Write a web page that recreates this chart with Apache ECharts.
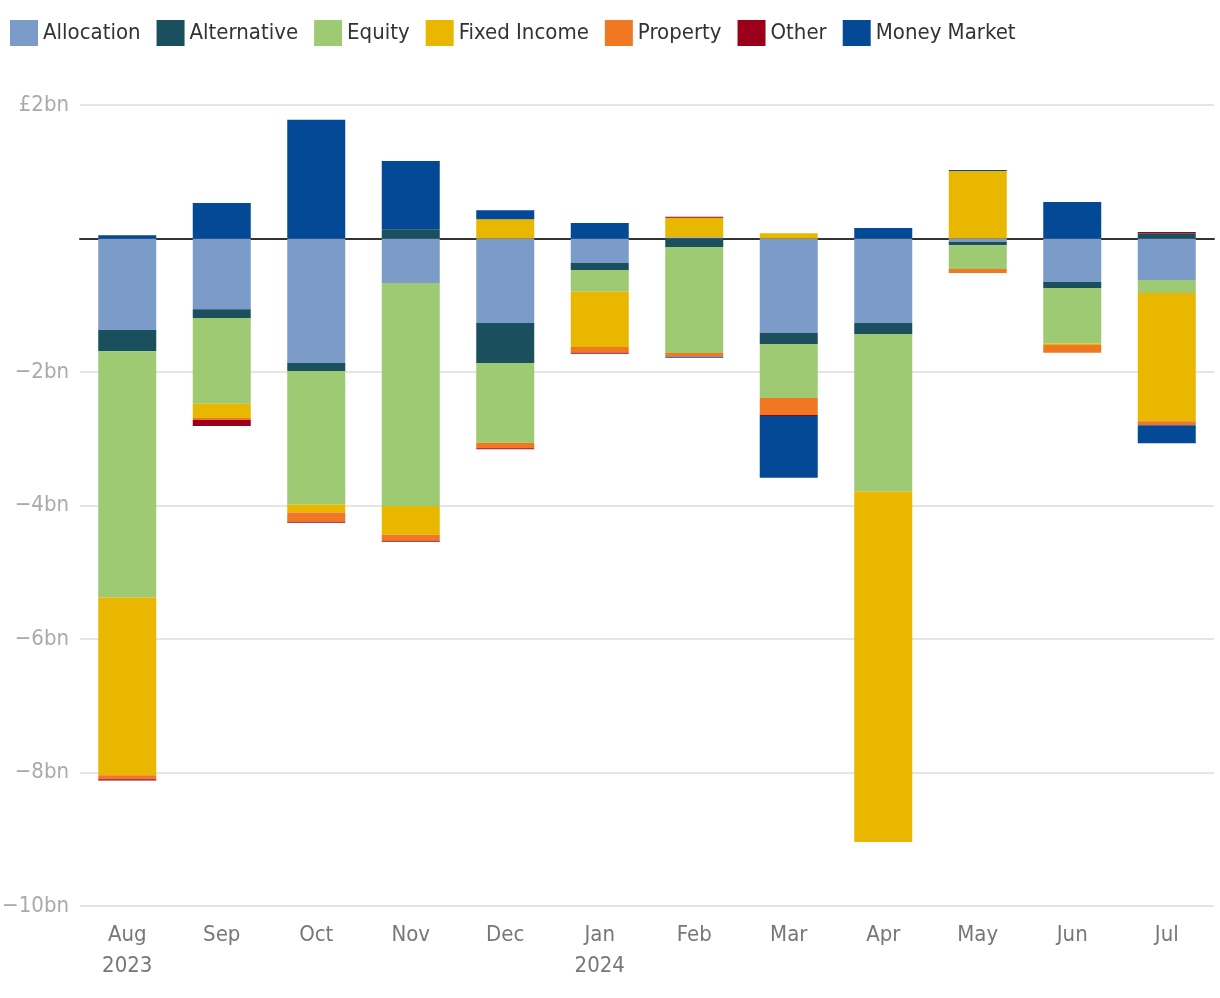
<!DOCTYPE html>
<html>
<head>
<meta charset="utf-8">
<script src="https://cdn.jsdelivr.net/npm/echarts@6/dist/echarts.min.js"></script>
<style>
html,body{margin:0;padding:0;background:#fff;}
#chart{width:1220px;height:998px;}
</style>
</head>
<body>
<div id="chart"></div>
<script>
const months = ['Aug\n2023','Sep','Oct','Nov','Dec','Jan\n2024','Feb','Mar','Apr','May','Jun','Jul'];
const yTicks = {min: -10, max: 2, interval: 2};

const allocation  = [-1.37, -1.06, -1.865, -0.667, -1.266, -0.367, 0.02, -1.416, -1.266, -0.05, -0.652, -0.622];
const alternative = [-0.32, -0.13, -0.12, 0.14, -0.60, -0.105, -0.127, -0.165, -0.165, -0.05, -0.09, 0.077];
const equity      = [-3.69, -1.285, -2.0, -3.34, -1.195, -0.325, -1.59, -0.81, -2.36, -0.357, -0.83, -0.195];
const fixedIncome = [-2.66, -0.215, -0.12, -0.43, 0.29, -0.83, 0.29, 0.08, -5.25, 1.01, -0.025, -1.92];
const property    = [-0.06, -0.03, -0.14, -0.09, -0.08, -0.085, -0.055, -0.255, 0, -0.06, -0.115, -0.06];
const other       = [-0.02, -0.09, -0.015, -0.015, -0.015, -0.015, 0.015, -0.015, 0, 0, 0, 0.02];
const moneyMarket = [0.05, 0.53, 1.78, 1.02, 0.135, 0.232, -0.015, -0.925, 0.157, 0.015, 0.547, -0.27];

const seriesDefs = [
  ['Allocation', allocation, '#7b9bc9'],
  ['Alternative', alternative, '#1a4f5e'],
  ['Equity', equity, '#9dca73'],
  ['Fixed Income', fixedIncome, '#e9b600'],
  ['Property', property, '#f07823'],
  ['Other', other, '#9b0019'],
  ['Money Market', moneyMarket, '#044996']
];

const FONT = '"Liberation Sans Narrow", "DejaVu Sans Condensed", "Roboto", sans-serif';

const chart = echarts.init(document.getElementById('chart'));
chart.setOption({
  animation: false,
  textStyle: {fontFamily: FONT},
  legend: {
    left: 10, top: 20, padding: 0,
    itemWidth: 28, itemHeight: 26, itemGap: 16,
    icon: 'rect',
    textStyle: {fontSize: 22, color: '#333', fontFamily: FONT},
    data: seriesDefs.map(s => s[0])
  },
  grid: {left: 80, right: 6, top: 105, bottom: 92, outerBoundsMode: 'none', containLabel: false},
  xAxis: {
    type: 'category',
    data: months,
    axisLine: {onZero: true, lineStyle: {color: '#333', width: 2}},
    axisTick: {show: false},
    axisLabel: {
      fontSize: 22, color: '#777', fontFamily: FONT,
      lineHeight: 31, margin: 14, interval: 0
    },
    position: 'bottom'
  },
  yAxis: {
    type: 'value',
    min: yTicks.min, max: yTicks.max, interval: yTicks.interval,
    axisLine: {show: false},
    axisTick: {show: false},
    splitLine: {lineStyle: {color: '#e5e5e5', width: 2}},
    axisLabel: {
      fontSize: 22, color: '#aaa', fontFamily: FONT, margin: 11,
      formatter: v => v === 0 ? '' : (v > 0 ? '£' + v + 'bn' : '\u2212' + Math.abs(v) + 'bn')
    }
  },
  series: seriesDefs.map(([name, data, color]) => ({
    name, type: 'bar', stack: 'total', data,
    barWidth: 58,
    itemStyle: {color},
    emphasis: {disabled: true}
  }))
});
</script>
</body>
</html>
